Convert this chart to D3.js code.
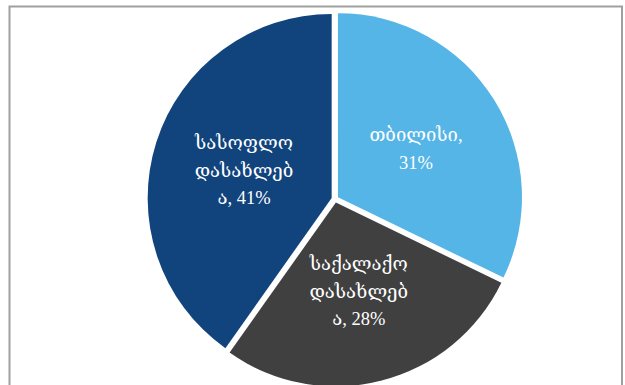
<!DOCTYPE html>
<html>
<head>
<meta charset="utf-8">
<script src="https://cdn.jsdelivr.net/npm/d3@7"></script>
<style>
  html, body { margin: 0; padding: 0; background: #fff; overflow: hidden; }
  svg { display: block; }
</style>
</head>
<body>
<svg></svg>
<script>
// data (slice sizes as drawn, labels as printed)
const categories = ["თბილისი", "საქალაქო დასახლება", "სასოფლო დასახლება"];
const shares = [32.2, 27.6, 40.2];
const colors = ["#55b5e6", "#404040", "#11437d"];
const labelLines = [
    ["თბილისი,", "31%"],
    ["საქალაქო", "დასახლებ", "ა, 28%"],
    ["სასოფლო", "დასახლებ", "ა, 41%"]
];

const width = 625, height = 385;
const svg = d3.select('svg').attr('width', width).attr('height', height);

// chart border
svg.append('rect')
    .attr('x', 9.5).attr('y', 6.5)
    .attr('width', 612.5).attr('height', 400)
    .attr('fill', 'none')
    .attr('stroke', '#a0a0a0')
    .attr('stroke-width', 2);

const cx = 335, cy = 199;
const radius = 184;
const explode = 3.5;

const data = categories.map((c, i) => ({ name: c, value: shares[i], color: colors[i], lines: labelLines[i] }));

const pie = d3.pie().value(d => d.value).sort(null);
const arc = d3.arc().innerRadius(0).outerRadius(radius);
const labelArc = d3.arc().innerRadius(radius * 0.5).outerRadius(radius * 0.5);

const g = svg.append('g').attr('transform', `translate(${cx},${cy})`);

const slices = g.selectAll('.slice').data(pie(data)).enter().append('g')
    .attr('class', 'slice')
    .attr('transform', d => {
        const mid = (d.startAngle + d.endAngle) / 2;
        return `translate(${Math.sin(mid) * explode},${-Math.cos(mid) * explode})`;
    });

slices.append('path')
    .attr('d', arc)
    .attr('fill', d => d.data.color);

const lineH = 27.5;
slices.append('text')
    .attr('transform', d => `translate(${labelArc.centroid(d)})`)
    .attr('text-anchor', 'middle')
    .attr('fill', '#fff')
    .style('font-family', '"Liberation Serif", "DejaVu Serif", serif')
    .style('font-size', '18.5px')
    .selectAll('tspan')
    .data(d => d.data.lines.map((t, i, arr) => ({ t, i, n: arr.length })))
    .enter().append('tspan')
    .attr('x', 0)
    .attr('y', d => (d.i - (d.n - 1) / 2) * lineH)
    .attr('dy', '0.35em')
    .text(d => d.t);
</script>
</body>
</html>
